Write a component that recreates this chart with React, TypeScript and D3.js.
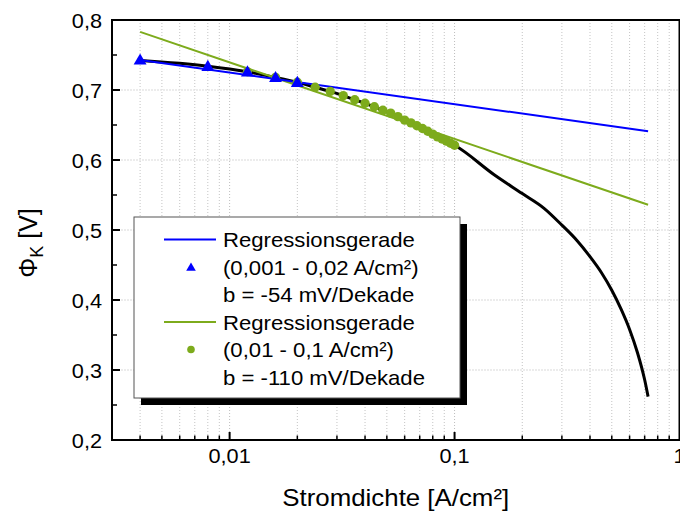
import React from "react";
import * as d3 from "d3";

const W = 680;
const H = 512;

// Black measured curve
const curveX = [
  0.004, 0.008, 0.012, 0.016, 0.02, 0.024, 0.028, 0.032, 0.036, 0.04, 0.044, 0.048, 0.052,
  0.056, 0.06, 0.064, 0.068, 0.072, 0.076, 0.08, 0.084, 0.088, 0.092, 0.096, 0.1,
  0.15, 0.2, 0.25, 0.3, 0.35, 0.4, 0.45, 0.5, 0.55, 0.6, 0.65, 0.7, 0.725,
];
const curveY = [
  0.742, 0.734, 0.726, 0.718, 0.711, 0.704, 0.698, 0.692, 0.686, 0.681, 0.676, 0.671, 0.667,
  0.662, 0.657, 0.653, 0.649, 0.645, 0.641, 0.637, 0.633, 0.63, 0.627, 0.624, 0.621,
  0.579, 0.552, 0.531, 0.507, 0.485, 0.462, 0.439, 0.414, 0.387, 0.358, 0.325, 0.286, 0.262,
];

// Blue triangles (0,001 - 0,02 A/cm²)
const triX = [0.004, 0.008, 0.012, 0.016, 0.02];
const triY = [0.743, 0.734, 0.726, 0.718, 0.711];

// Green circles (0,01 - 0,1 A/cm²)
const circX = [
  0.012, 0.016, 0.02, 0.024, 0.028, 0.032, 0.036, 0.04, 0.044, 0.048, 0.052, 0.056, 0.06,
  0.064, 0.068, 0.072, 0.076, 0.08, 0.084, 0.088, 0.092, 0.096, 0.1,
];
const circY = [
  0.726, 0.718, 0.711, 0.704, 0.698, 0.692, 0.686, 0.681, 0.676, 0.671, 0.667, 0.662, 0.657,
  0.653, 0.649, 0.645, 0.641, 0.637, 0.633, 0.63, 0.627, 0.624, 0.621,
];

// Regression lines
const blueLineX = [0.004, 0.725];
const blueLineY = [0.743, 0.641];
const greenLineX = [0.004, 0.725];
const greenLineY = [0.783, 0.536];

const xMajorTicks = [0.01, 0.1, 1];
const xMajorLabels = ["0,01", "0,1", "1"];
const yMajorTicks = [0.2, 0.3, 0.4, 0.5, 0.6, 0.7, 0.8];
const yMajorLabels = ["0,2", "0,3", "0,4", "0,5", "0,6", "0,7", "0,8"];
const yMinorTicks = [0.25, 0.35, 0.45, 0.55, 0.65, 0.75];

const legendLabels = [
  "Regressionsgerade",
  "(0,001 - 0,02 A/cm²)",
  "b = -54 mV/Dekade",
  "Regressionsgerade",
  "(0,01 - 0,1 A/cm²)",
  "b = -110 mV/Dekade",
];

const BLUE = "#0000ff";
const GREEN = "#7dab1c";
const FONT = "'Liberation Sans', Arial, sans-serif";

export default function App() {
  const L = 112, R = 679.5, T = 20, B = 440;
  const x = d3.scaleLog().domain([0.003, 1]).range([L, R]);
  const y = d3.scaleLinear().domain([0.2, 0.8]).range([B, T]);

  const xMinor: number[] = [];
  [0.001, 0.01, 0.1].forEach((dec) => {
    for (let k = 1; k <= 9; k++) {
      const v = dec * k;
      if (v > 0.003 + 1e-9 && v < 1 - 1e-9) xMinor.push(+v.toPrecision(6));
    }
  });
  const isMajor = (v: number) => xMajorTicks.some((m) => Math.abs(m - v) < 1e-9);

  const line = d3
    .line<[number, number]>()
    .x((d) => x(d[0]))
    .y((d) => y(d[1]))
    .curve(d3.curveMonotoneX);
  const straight = d3
    .line<[number, number]>()
    .x((d) => x(d[0]))
    .y((d) => y(d[1]));

  const curvePts = curveX.map((v, i) => [v, curveY[i]] as [number, number]);
  const bluePts = blueLineX.map((v, i) => [v, blueLineY[i]] as [number, number]);
  const greenPts = greenLineX.map((v, i) => [v, greenLineY[i]] as [number, number]);

  const tri = d3.symbol().type(d3.symbolTriangle).size(72);
  const triSmall = d3.symbol().type(d3.symbolTriangle).size(40);

  // legend geometry
  const lgL = 134, lgT = 217, lgW = 326, lgH = 181;
  const rowY = (i: number) => 239.5 + i * 27.5;

  return (
    <svg
      width={W}
      height={H}
      style={{ position: "absolute", left: 0, top: 0, background: "#fff" }}
      fontFamily={FONT}
    >
      {/* vertical grid */}
      {xMinor.map((v) => (
        <line
          key={"gx" + v}
          x1={x(v)}
          x2={x(v)}
          y1={T}
          y2={B}
          stroke={isMajor(v) ? "#bdbdbd" : "#c4c4c4"}
          strokeWidth={1}
          strokeDasharray="1,2"
        />
      ))}
      {/* horizontal grid */}
      {yMajorTicks.slice(1, -1).map((v) => (
        <line
          key={"gy" + v}
          x1={L}
          x2={R}
          y1={y(v)}
          y2={y(v)}
          stroke="#e6e6e6"
          strokeWidth={1.5}
          strokeDasharray="2,1"
        />
      ))}

      {/* measured curve */}
      <path d={line(curvePts) || ""} fill="none" stroke="#000" strokeWidth={3} />
      {/* regression lines */}
      <path d={straight(greenPts) || ""} fill="none" stroke={GREEN} strokeWidth={2} />
      <path d={straight(bluePts) || ""} fill="none" stroke={BLUE} strokeWidth={2} />

      {/* green circles */}
      {circX.map((v, i) => (
        <circle key={"c" + i} cx={x(v)} cy={y(circY[i])} r={4.7} fill={GREEN} />
      ))}
      {/* blue triangles */}
      {triX.map((v, i) => (
        <path
          key={"t" + i}
          d={tri() || ""}
          transform={`translate(${x(v)},${y(triY[i]) + 1})`}
          fill={BLUE}
        />
      ))}

      {/* legend */}
      <rect x={lgL + 7} y={lgT + 7} width={lgW} height={lgH} fill="#000" />
      <rect x={lgL} y={lgT} width={lgW} height={lgH} fill="#fff" stroke="#555" strokeWidth={1} />
      <line x1={164} x2={216} y1={rowY(0)} y2={rowY(0)} stroke={BLUE} strokeWidth={2} />
      <path d={triSmall() || ""} transform={`translate(191,${rowY(1) + 1})`} fill={BLUE} />
      <line x1={164} x2={216} y1={rowY(3)} y2={rowY(3)} stroke={GREEN} strokeWidth={2} />
      <circle cx={191} cy={rowY(4)} r={3.8} fill={GREEN} />
      {legendLabels.map((t, i) => (
        <text
          key={"lg" + i}
          transform={`translate(223,${rowY(i) + 7.5}) scale(1.08,1)`}
          fontSize={20.5}
          fill="#000"
        >
          {t}
        </text>
      ))}

      {/* frame */}
      <rect x={L} y={T} width={R - L} height={B - T} fill="none" stroke="#000" strokeWidth={2} />

      {/* x ticks */}
      {xMinor.map((v) => (
        <line
          key={"tx" + v}
          x1={x(v)}
          x2={x(v)}
          y1={B}
          y2={B - (isMajor(v) ? 8 : 4.5)}
          stroke="#000"
          strokeWidth={isMajor(v) ? 2 : 1.5}
        />
      ))}
      {xMajorTicks.map((v, i) => (
        <text
          key={"xl" + v}
          transform={`translate(${x(v)},463) scale(1.06,1)`}
          fontSize={20.5}
          textAnchor="middle"
          fill="#000"
        >
          {xMajorLabels[i]}
        </text>
      ))}

      {/* y ticks */}
      {yMajorTicks.map((v, i) => (
        <g key={"ty" + v}>
          <line x1={L} x2={L + 8} y1={y(v)} y2={y(v)} stroke="#000" strokeWidth={2} />
          <text
            transform={`translate(102,${y(v) + 7.5}) scale(1.06,1)`}
            fontSize={20.5}
            textAnchor="end"
            fill="#000"
          >
            {yMajorLabels[i]}
          </text>
        </g>
      ))}
      {yMinorTicks.map((v) => (
        <line key={"tym" + v} x1={L} x2={L + 5} y1={y(v)} y2={y(v)} stroke="#000" strokeWidth={1.5} />
      ))}

      {/* axis titles */}
      <text
        transform={`translate(${(L + R) / 2},506) scale(1.1,1)`}
        fontSize={23.5}
        textAnchor="middle"
        fill="#000"
      >
        Stromdichte [A/cm²]
      </text>
      <text
        transform={`translate(37,243) rotate(-90)`}
        fontSize={25}
        textAnchor="middle"
        fill="#000"
      >
        Φ
        <tspan fontSize={18} dy={6}>K</tspan>
        <tspan dy={-6}> [V]</tspan>
      </text>
    </svg>
  );
}
